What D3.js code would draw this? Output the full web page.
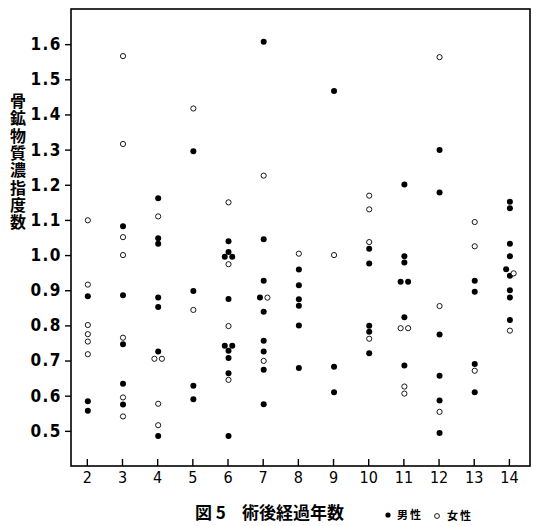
<!DOCTYPE html>
<html>
<head>
<meta charset="utf-8">
<script src="https://cdn.jsdelivr.net/npm/d3@7"></script>
<style>
  html, body { margin: 0; padding: 0; background: #fff; }
  svg { display: block; }
</style>
</head>
<body>
<div id="chart"></div>
<script>
// ---- data ----
const years = [2, 3, 4, 5, 6, 7, 8, 9, 10, 11, 12, 13, 14];
const yTicks = [0.5, 0.6, 0.7, 0.8, 0.9, 1.0, 1.1, 1.2, 1.3, 1.4, 1.5, 1.6];
const yTickLabels = ["0.5", "0.6", "0.7", "0.8", "0.9", "1.0", "1.1", "1.2", "1.3", "1.4", "1.5", "1.6"];
const maleValues = [
  [0.883, 0.584, 0.557],                                             // 2
  [1.082, 0.886, 0.746, 0.634, 0.575],                               // 3
  [1.162, 1.048, 1.032, 0.879, 0.852, 0.726, 0.485],                 // 4
  [1.295, 0.898, 0.628, 0.590],                                      // 5
  [1.039, 1.009, 0.995, 0.995, 0.875, 0.742, 0.742, 0.728, 0.707, 0.664, 0.485], // 6
  [1.607, 1.045, 0.927, 0.879, 0.839, 0.756, 0.726, 0.674, 0.576],   // 7
  [0.959, 0.914, 0.874, 0.856, 0.800, 0.679],                        // 8
  [1.467, 0.682, 0.610],                                             // 9
  [1.018, 0.976, 0.799, 0.782, 0.721],                               // 10
  [1.201, 0.997, 0.979, 0.924, 0.924, 0.823, 0.686],                 // 11
  [1.299, 1.178, 0.774, 0.657, 0.586, 0.494],                        // 12
  [0.927, 0.896, 0.690, 0.610],                                      // 13
  [1.152, 1.133, 1.032, 0.997, 0.960, 0.941, 0.900, 0.879, 0.815]    // 14
];
const femaleValues = [
  [1.099, 0.916, 0.801, 0.775, 0.754, 0.718],                        // 2
  [1.566, 1.316, 1.051, 1.000, 0.765, 0.595, 0.541],                 // 3
  [1.110, 0.705, 0.705, 0.577, 0.516],                               // 4
  [1.417, 0.844],                                                    // 5
  [1.150, 0.974, 0.798, 0.645],                                      // 6
  [1.226, 0.879, 0.699],                                             // 7
  [1.004],                                                           // 8
  [1.000],                                                           // 9
  [1.169, 1.130, 1.037, 0.762],                                      // 10
  [0.792, 0.792, 0.626, 0.606],                                      // 11
  [1.563, 0.855, 0.554],                                             // 12
  [1.094, 1.025, 0.671],                                             // 13
  [0.948, 0.785]                                                     // 14
];
const xTitle = ["図 5", "術後経過年数"];
const yTitle = "骨鉱物質濃指度数";
const legendLabels = ["男性", "女性"];

// ---- layout ----
const W = 537, H = 526;
const svg = d3.select("#chart").append("svg").attr("width", W).attr("height", H);

const x = d3.scaleLinear().domain([1.55, 14.6]).range([71, 530]);
const y = d3.scaleLinear().domain([0.4, 1.7]).range([466, 9]);

// frame
svg.append("rect")
  .attr("x", x.range()[0]).attr("y", y.range()[1])
  .attr("width", x.range()[1] - x.range()[0])
  .attr("height", y.range()[0] - y.range()[1])
  .attr("fill", "none").attr("stroke", "#000").attr("stroke-width", 1.6);

const numFont = "'DejaVu Sans Condensed', 'Liberation Sans Narrow', 'DejaVu Sans', sans-serif";

// y axis
const yAxis = d3.axisLeft(y).tickValues(yTicks)
  .tickFormat((d, i) => yTickLabels[i]).tickSize(6).tickPadding(3);
const gy = svg.append("g").attr("transform", `translate(${x.range()[0]},0)`).call(yAxis);
gy.select(".domain").remove();
gy.selectAll(".tick line").attr("stroke", "#000").attr("stroke-width", 1.4);
gy.selectAll(".tick text")
  .attr("fill", "#000")
  .style("font-family", numFont).style("font-weight", "bold").style("font-size", "17px")
  .style("letter-spacing", "1.5px");

// x axis (ticks pointing inward)
const xAxis = d3.axisBottom(x).tickValues(years).tickFormat(d3.format("d"))
  .tickSize(-7).tickPadding(6);
const gx = svg.append("g").attr("transform", `translate(0,${y.range()[0]})`).call(xAxis);
gx.select(".domain").remove();
gx.selectAll(".tick line").attr("stroke", "#000").attr("stroke-width", 1.4);
gx.selectAll(".tick text")
  .attr("fill", "#000")
  .style("font-family", numFont).style("font-size", "16px");

// ---- points with simple symmetric dodge for (nearly) equal values ----
const points = [];
years.forEach((yr, i) => {
  const col = [];
  maleValues[i].forEach(v => col.push({ yr, v, sex: "m" }));
  femaleValues[i].forEach(v => col.push({ yr, v, sex: "f" }));
  const used = new Set();
  col.forEach((p, j) => {
    if (used.has(j)) return;
    const grp = [j];
    col.forEach((q, k) => { if (k !== j && !used.has(k) && Math.abs(q.v - p.v) < 0.0125) grp.push(k); });
    grp.forEach((k, n) => { used.add(k); col[k].dx = (n - (grp.length - 1) / 2) * 7.5; });
  });
  col.forEach(p => points.push(p));
});

const plot = svg.append("g");
plot.selectAll("circle.m").data(points.filter(p => p.sex === "m")).join("circle")
  .attr("class", "m")
  .attr("cx", d => x(d.yr) + d.dx + 1).attr("cy", d => y(d.v))
  .attr("r", 3).attr("fill", "#000");
plot.selectAll("circle.f").data(points.filter(p => p.sex === "f")).join("circle")
  .attr("class", "f")
  .attr("cx", d => x(d.yr) + d.dx + 1).attr("cy", d => y(d.v))
  .attr("r", 2.6).attr("fill", "#fff").attr("stroke", "#000").attr("stroke-width", 0.9);

// ---- y title (vertical writing) ----
const cjk = "'Noto Sans CJK JP', 'Noto Sans CJK SC', sans-serif";
svg.append("text")
  .attr("x", 18).attr("y", 93)
  .attr("fill", "#000")
  .style("writing-mode", "vertical-rl")
  .style("text-orientation", "upright")
  .style("font-family", cjk).style("font-weight", "bold").style("font-size", "16px")
  .style("letter-spacing", "1.3px")
  .text(yTitle);

// ---- caption ----
svg.append("text").attr("x", 195).attr("y", 519).attr("fill", "#000")
  .style("font-family", cjk).style("font-size", "17px").style("font-weight", "bold")
  .text(xTitle[0]);
svg.append("text").attr("x", 242).attr("y", 519).attr("fill", "#000")
  .style("font-family", cjk).style("font-size", "17px").style("font-weight", "bold")
  .text(xTitle[1]);

// ---- legend ----
svg.append("circle").attr("cx", 388).attr("cy", 515).attr("r", 2.6).attr("fill", "#000");
svg.append("text").attr("x", 397).attr("y", 519).attr("fill", "#000")
  .style("font-family", cjk).style("font-size", "11px").style("font-weight", "bold")
  .style("letter-spacing", "2px").text(legendLabels[0]);
svg.append("circle").attr("cx", 437).attr("cy", 516).attr("r", 2.4)
  .attr("fill", "#fff").attr("stroke", "#000").attr("stroke-width", 0.9);
svg.append("text").attr("x", 447).attr("y", 520).attr("fill", "#000")
  .style("font-family", cjk).style("font-size", "11px").style("font-weight", "bold")
  .style("letter-spacing", "2px").text(legendLabels[1]);
</script>
</body>
</html>
